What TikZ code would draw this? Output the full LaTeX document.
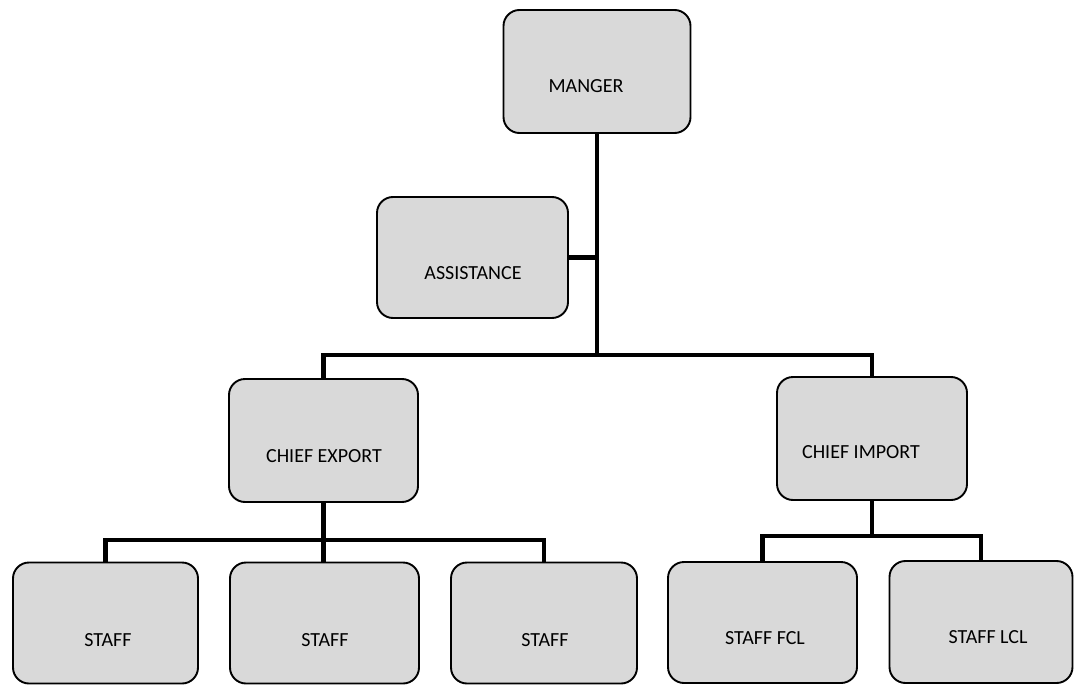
\documentclass[tikz,border=0pt]{standalone}
\usepackage{fontspec}
\setmainfont{Carlito}
\definecolor{boxfill}{RGB}{217,217,217}
\tikzset{
  orgbox/.style={draw=black, line width=1.9pt, fill=boxfill, rounded corners=16pt,
                 inner sep=0pt, outer sep=0pt},
  orgtext/.style={font=\fontsize{20}{24}\selectfont, text=black, inner sep=0pt},
  conn/.style={draw=black, line width=4.6pt, line join=miter}
}
\begin{document}
\begin{tikzpicture}[x=1pt, y=-1pt]
  \useasboundingbox (0,0) rectangle (1074,685);

  % boxes
  \node[orgbox, minimum width=187, minimum height=123] (manager)    at (597,71.5)   {};
  \node[orgbox, minimum width=191, minimum height=121] (assistance) at (472.5,257.5) {};
  \node[orgbox, minimum width=189, minimum height=123] (export)     at (323.5,440.5) {};
  \node[orgbox, minimum width=190, minimum height=123] (import)     at (872,438.5)  {};
  \node[orgbox, minimum width=185, minimum height=121] (staffa)     at (105.5,623)  {};
  \node[orgbox, minimum width=189, minimum height=121] (staffb)     at (324.5,623)  {};
  \node[orgbox, minimum width=186, minimum height=121] (staffc)     at (544,623)    {};
  \node[orgbox, minimum width=189, minimum height=121] (fcl)        at (762.5,622.5) {};
  \node[orgbox, minimum width=183, minimum height=122] (lcl)        at (981,622)    {};

  % labels
  \node[orgtext] (managerT)    at (586,86)   {MANGER};
  \node[orgtext] (assistanceT) at (473,273)  {ASSISTANCE};
  \node[orgtext] (exportT)     at (324,456)  {CHIEF EXPORT};
  \node[orgtext] (importT)     at (861,452)  {CHIEF IMPORT};
  \node[orgtext] (staffaT)     at (108,640)  {STAFF};
  \node[orgtext] (staffbT)     at (325,640)  {STAFF};
  \node[orgtext] (staffcT)     at (545,640)  {STAFF};
  \node[orgtext] (fclT)        at (765,638)  {STAFF FCL};
  \node[orgtext] (lclT)        at (988,637)  {STAFF LCL};

  % junction points
  \coordinate (hub)  at (manager.south |- 0,355);
  \coordinate (ebar) at (export.south |- 0,540);
  \coordinate (ibar) at (import.south |- 0,536);

  % connectors
  \draw[conn] (manager.south) -- (hub);
  \draw[conn] (assistance.east) -- (assistance.east -| hub);
  \draw[conn] (export.north) |- (hub) -| (import.north);
  \draw[conn] (export.south) -- (ebar);
  \draw[conn] (staffa.north) |- (ebar) -| (staffc.north);
  \draw[conn] (ebar) -- (ebar |- staffb.north);
  \draw[conn] (import.south) -- (ibar);
  \draw[conn] (fcl.north) |- (ibar) -| (lcl.north);
\end{tikzpicture}
\end{document}
